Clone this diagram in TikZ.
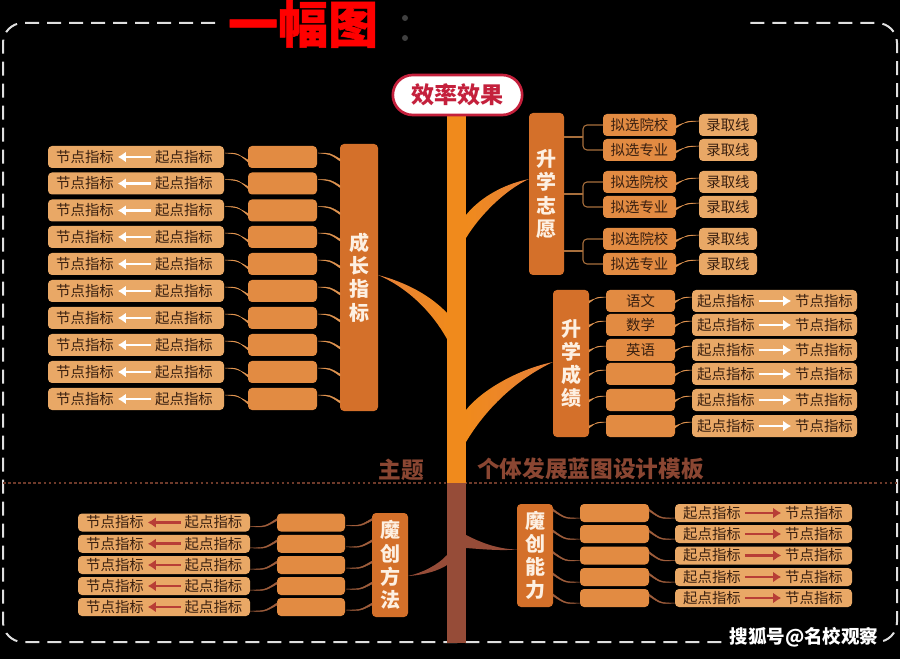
\documentclass[tikz,border=0pt]{standalone}
\usepackage{fontspec}
\usetikzlibrary{arrows.meta,calc}
\setmainfont{Noto Sans CJK SC}
\newfontfamily\titlefont[BoldFeatures={FakeBold=1}]{Noto Sans CJK SC}
\definecolor{outerc}{HTML}{E9A866}
\definecolor{midc}{HTML}{E28B42}
\definecolor{mainc}{HTML}{D4702A}
\definecolor{trunkc}{HTML}{F08A1C}
\definecolor{trunkd}{HTML}{964C38}
\definecolor{rootc}{HTML}{C4203C}
\definecolor{txtc}{HTML}{3A2010}
\definecolor{connc}{HTML}{E09450}
\definecolor{conndc}{HTML}{A05E3C}
\definecolor{redarr}{HTML}{B83E36}
\definecolor{themec}{HTML}{8A4632}
\definecolor{divc}{HTML}{6E3A2A}
\definecolor{creamc}{HTML}{FDF0E2}
\definecolor{branchc}{HTML}{E6803A}
\tikzset{
  x=0.75pt,y=-0.75pt,
  box/.style={rounded corners=3pt,inner sep=0pt,outer sep=0pt},
  outerbox/.style={box,fill=outerc},
  midbox/.style={box,fill=midc},
  mainbox/.style={box,fill=mainc,text=creamc,font=\bfseries\fontsize{15}{17.4}\selectfont,align=center},
  txt/.style={inner sep=0pt,outer sep=0pt,text=txtc,font=\fontsize{10.8}{12}\selectfont},
  whitearr/.style={draw=white,line width=1.6pt,-{Latex[length=6pt,width=8pt]},shorten >=3pt,shorten <=3pt},
  redar/.style={draw=redarr,line width=2pt,-{Latex[length=6pt,width=8pt]},shorten >=3pt,shorten <=3pt},
  brk/.style={draw=connc!75!black,line width=0.8pt},
  theme/.style={inner sep=0pt,text=themec,font=\bfseries\fontsize{17}{18}\selectfont},
}
\newcommand{\tap}[4][connc]{%
  \coordinate (tA) at (#2);\coordinate (tB) at (#3);
  \filldraw[#1,line width=0.3pt] (tA) .. controls ($(tA)!.55!(tA -| tB)$) .. (tB) -- ($(tB)+(0,#4)$) .. controls ($(tA)!.55!(tA -| tB)+(0,1)$) .. (tA) -- cycle;}
\begin{document}
\begin{tikzpicture}
\useasboundingbox (0,0) rectangle (900,659);
\fill[black] (0,0) rectangle (900,659);
% frame
\draw[draw=gray!25,line width=1.5pt,dash pattern=on 10.5pt off 6pt,rounded corners=15pt]
  (215,23) -- (3,23) -- (3,642) -- (897,642) -- (897,23) -- (748,23);
% title
\node[inner sep=0pt,text=red,font=\titlefont\bfseries\fontsize{37.5}{40}\selectfont] (title) at (303,24) {一幅图};
\fill[black!75] (405,18) circle (3);
\fill[black!75] (405,38) circle (3);
% divider
\draw[draw=divc,line width=1.1pt,dash pattern=on 2pt off 1.8pt] (3,483) -- (897,483);
% main boxes
\node[mainbox,minimum width=28.5pt,minimum height=200.25pt] (cmain) at (359,277.5) {成\\长\\指\\标};
\node[mainbox,minimum width=26.25pt,minimum height=121.5pt] (zmain) at (546.5,194) {升\\学\\志\\愿};
\node[mainbox,minimum width=27pt,minimum height=110.25pt] (smain) at (571,363.5) {升\\学\\成\\绩};
\node[mainbox,minimum width=27pt,minimum height=78pt] (fmain) at (390,565) {魔\\创\\方\\法};
\node[mainbox,minimum width=27pt,minimum height=77.25pt] (nmain) at (535,555.5) {魔\\创\\能\\力};
% branches
\coordinate (g1t) at (378,275);\coordinate (g1a) at (447,313);\coordinate (g1b) at (447,339);
\shade[left color=branchc,right color=trunkc] (g1t) .. controls (405,282) and (430,295) .. (g1a) -- (g1b) .. controls (432,312) and (408,288) .. (g1t) -- cycle;
\coordinate (g2a) at (466,215);\coordinate (g2b) at (466,238);\coordinate (g2t) at (529,179);
\shade[left color=trunkc,right color=branchc] (g2a) .. controls (478,200) and (500,185) .. (g2t) .. controls (505,190) and (480,215) .. (g2b) -- cycle;
\coordinate (g3a) at (466,410);\coordinate (g3b) at (466,442);\coordinate (g3t) at (553,362);
\shade[left color=trunkc,right color=branchc] (g3a) .. controls (480,392) and (515,370) .. (g3t) .. controls (515,380) and (485,410) .. (g3b) -- cycle;
\coordinate (g4a) at (447,555);\coordinate (g4b) at (447,565);\coordinate (g4t) at (408,576);
\fill[trunkd] (g4t) .. controls (422,573) and (438,565) .. (g4a) -- (g4b) .. controls (440,570) and (425,575) .. (g4t) -- cycle;
\coordinate (g5a) at (466,535);\coordinate (g5b) at (466,548);\coordinate (g5t) at (517,549.5);
\fill[trunkd] (g5a) .. controls (478,541) and (495,549) .. (g5t) .. controls (500,551) and (480,549) .. (g5b) -- cycle;
% trunk
\node[fill=trunkc,inner sep=0pt,outer sep=0pt,minimum width=14.25pt,minimum height=276pt] (trunk) at (456.5,299) {};
\node[fill=trunkd,inner sep=0pt,outer sep=0pt,minimum width=14.25pt,minimum height=120pt] (trunkb) at (456.5,563) {};
% root
\node[box,rounded corners=15pt,fill=white,draw=rootc,line width=2pt,minimum width=97pt,minimum height=30pt,text=rootc,font=\bfseries\fontsize{17.3}{18}\selectfont] (root) at (457.5,95) {效率效果};
% theme
\node[theme] (th1) at (401.5,470) {主题};
\node[theme] (th2) at (590.5,469) {个体发展蓝图设计模板};
% group A
\foreach \i/\y in {1/157,2/183.5,3/210.5,4/237,5/264,6/291,7/318,8/345,9/372,10/399}{
  \node[outerbox,minimum width=132pt,minimum height=16.5pt] (ao\i) at (136,\y) {};
  \node[txt] (ae\i) at (85,\y) {节点指标};
  \node[txt] (as\i) at (184,\y) {起点指标};
  \draw[whitearr] (as\i) -- (ae\i);
  \node[midbox,minimum width=51.75pt,minimum height=16.5pt] (am\i) at (282.5,\y) {};
  \tap{$(ao\i.east)+(1,-4)$}{$(am\i.west)+(0,5)$}{-2}
  \tap{$(am\i.east)+(1,-4)$}{$(am\i.east -| cmain.west)+(0,2)$}{2}
}
% group Z
\coordinate (j1) at (583,137);\coordinate (j2) at (583,194);\coordinate (j3) at (583,251);
\foreach \i/\y/\t/\j in {1/125/拟选院校/j1,2/150/拟选专业/j1,3/182/拟选院校/j2,4/207/拟选专业/j2,5/239/拟选院校/j3,6/264/拟选专业/j3}{
  \node[midbox,txt,minimum width=54.75pt,minimum height=16.5pt] (zp\i) at (639.5,\y) {\t};
  \node[outerbox,txt,minimum width=43.5pt,minimum height=16.5pt] (zl\i) at (728,\y) {录取线};
  \draw[brk,rounded corners=3pt] (zp\i.west) -| (\j);
  \tap{$(zl\i.west)+(0,-4)$}{$(zp\i.east)+(0,3)$}{-2}
}
\foreach \j in {j1,j2,j3}{\draw[brk] (zmain.east |- \j) -- (\j);}
% group S
\foreach \i/\y/\t in {1/301/语文,2/325/数学,3/350/英语,4/374/{},5/400/{},6/426/{}}{
  \node[midbox,txt,minimum width=51.75pt,minimum height=16.5pt] (sm\i) at (640.5,\y) {\t};
  \node[outerbox,minimum width=123.75pt,minimum height=16.5pt] (so\i) at (774.5,\y) {};
  \node[txt] (ss\i) at (726,\y) {起点指标};
  \node[txt] (se\i) at (824,\y) {节点指标};
  \draw[whitearr] (ss\i) -- (se\i);
  \tap{$(sm\i.west)+(0,-4)$}{$(sm\i.west -| smain.east)+(0,2)$}{-2}
  \tap{$(so\i.west)+(0,-4)$}{$(sm\i.east)+(0,2)$}{-2}
}
% group F
\foreach \i/\y in {1/522.5,2/543.8,3/565,4/586,5/607}{
  \node[outerbox,minimum width=129pt,minimum height=13.5pt] (fo\i) at (164,\y) {};
  \node[txt] (fe\i) at (115,\y) {节点指标};
  \node[txt] (fs\i) at (213.5,\y) {起点指标};
  \draw[redar] (fs\i) -- (fe\i);
  \node[midbox,minimum width=51pt,minimum height=13.5pt] (fm\i) at (311,\y) {};
  \tap[conndc]{$(fo\i.east)+(0,4)$}{$(fm\i.west)+(0,-4)$}{2}
  \tap[conndc]{$(fm\i.east)+(1,3)$}{$(fm\i.east -| fmain.west)+(0,-4)$}{2}
}
% group N
\foreach \i/\y in {1/513,2/534,3/555.5,4/577,5/598}{
  \node[midbox,minimum width=51.75pt,minimum height=13.5pt] (nm\i) at (614.5,\y) {};
  \node[outerbox,minimum width=132.75pt,minimum height=13.5pt] (no\i) at (763.5,\y) {};
  \node[txt] (ns\i) at (712,\y) {起点指标};
  \node[txt] (ne\i) at (814,\y) {节点指标};
  \draw[redar] (ns\i) -- (ne\i);
  \tap[conndc]{$(nm\i.west)+(0,5)$}{$(nm\i.west -| nmain.east)+(0,-4)$}{2}
  \tap[conndc]{$(no\i.west)+(0,5)$}{$(nm\i.east)+(0,-4)$}{2}
}
% watermark
\node[fill=black,inner sep=1pt,text=white,font=\bfseries\fontsize{13.9}{16}\selectfont] (wm) at (804,637) {搜狐号@名校观察};
\end{tikzpicture}
\end{document}
